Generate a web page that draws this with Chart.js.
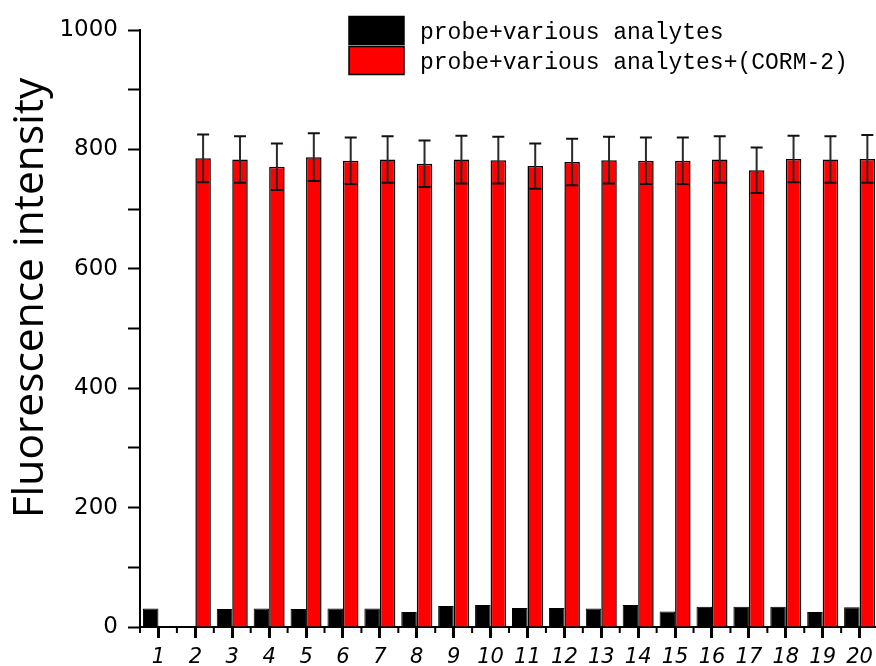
<!DOCTYPE html>
<html>
<head>
<meta charset="utf-8">
<title>Fluorescence intensity</title>
<script src="https://cdn.jsdelivr.net/npm/chart.js@4/dist/chart.umd.min.js"></script>
<style>
  html, body { margin: 0; padding: 0; overflow: hidden; background: #ffffff; }
  canvas { display: block; }
</style>
</head>
<body>
<canvas id="chart" width="880" height="666"></canvas>
<script>
// Sample numbers along the x axis
const categories = ['1','2','3','4','5','6','7','8','9','10','11','12','13','14','15','16','17','18','19','20'];

// Probe with each analyte
const probeAnalytes = [31, 0, 30, 31, 30, 31, 31, 25, 35, 37, 32, 32, 31, 37, 26, 34, 34, 34, 25, 33];

// Probe with each analyte, then CORM-2 added
const probeAnalytesCorm = [0, 785, 783, 771, 787, 781, 783, 776, 783, 782, 772, 779, 782, 781, 781, 783, 765, 784, 783, 784];
const probeAnalytesCormErr = [0, 40, 39, 39, 40, 39, 39, 39, 40, 39, 38, 39, 39, 39, 39, 39, 38, 39, 39, 40];

const seriesLabels = ['probe+various analytes', 'probe+various analytes+(CORM-2)'];
const seriesColors = ['#000000', '#ff0000'];

const yAxisTitle = 'Fluorescence intensity';
const yMax = 1000;
const yLabelStep = 200;
const yTickStep = 100;

// Symmetric error bars with caps on the CORM-2 series
const errorBarPlugin = {
  id: 'errorBars',
  afterDatasetsDraw(chart) {
    const meta = chart.getDatasetMeta(1);
    const ys = chart.scales.y;
    const ctx = chart.ctx;
    ctx.save();
    meta.data.forEach((bar, i) => {
      const v = probeAnalytesCorm[i];
      const e = probeAnalytesCormErr[i];
      if (!e) return;
      const x = bar.x;
      const yTop = ys.getPixelForValue(v + e);
      const yBot = ys.getPixelForValue(v - e);
      ctx.strokeStyle = '#2a2a2a';
      ctx.lineWidth = 2;
      ctx.beginPath();
      ctx.moveTo(x, yTop);
      ctx.lineTo(x, yBot);
      ctx.stroke();
      ctx.strokeStyle = '#111111';
      ctx.beginPath();
      ctx.moveTo(x - 6, yTop);
      ctx.lineTo(x + 6, yTop);
      ctx.moveTo(x - 6, yBot);
      ctx.lineTo(x + 6, yBot);
      ctx.stroke();
    });
    ctx.restore();
  }
};

// Short ticks on the category boundaries of the x axis
const minorTickPlugin = {
  id: 'minorTicks',
  afterDraw(chart) {
    const xs = chart.scales.x;
    const ctx = chart.ctx;
    const n = categories.length;
    const step = (xs.right - xs.left) / n;
    ctx.save();
    ctx.strokeStyle = '#000';
    ctx.lineWidth = 2;
    ctx.beginPath();
    for (let i = 0; i <= n; i++) {
      const x = xs.left + i * step;
      ctx.moveTo(x, xs.top);
      ctx.lineTo(x, xs.top + 6);
    }
    ctx.stroke();
    ctx.restore();
  }
};

// Vertical axis title
const yTitlePlugin = {
  id: 'yTitle',
  afterDraw(chart) {
    const ctx = chart.ctx;
    ctx.save();
    ctx.translate(31, 298);
    ctx.rotate(-Math.PI / 2);
    ctx.font = '42.5px "Open Sans"';
    ctx.fillStyle = '#000';
    ctx.textAlign = 'center';
    ctx.textBaseline = 'middle';
    ctx.fillText(yAxisTitle, 0, 0);
    ctx.restore();
  }
};

// Two-row legend in the upper right
const legendPlugin = {
  id: 'stackedLegend',
  afterDraw(chart) {
    const ctx = chart.ctx;
    ctx.save();
    chart.data.datasets.forEach((ds, i) => {
      const top = 16.5 + i * 30;
      ctx.fillStyle = ds.backgroundColor;
      ctx.fillRect(349, top, 55, 28);
      ctx.strokeStyle = '#000';
      ctx.lineWidth = 1.5;
      ctx.strokeRect(349, top, 55, 28);
      ctx.fillStyle = '#000';
      ctx.font = '23px "Liberation Mono"';
      ctx.textAlign = 'left';
      ctx.textBaseline = 'alphabetic';
      ctx.fillText(ds.label, 420, top + 22);
    });
    ctx.restore();
  }
};

new Chart(document.getElementById('chart'), {
  type: 'bar',
  data: {
    labels: categories,
    datasets: [
      {
        label: seriesLabels[0],
        data: probeAnalytes,
        backgroundColor: seriesColors[0],
        borderColor: '#000',
        borderWidth: 1,
        borderSkipped: 'bottom'
      },
      {
        label: seriesLabels[1],
        data: probeAnalytesCorm,
        backgroundColor: seriesColors[1],
        borderColor: '#000',
        borderWidth: 1.5,
        borderSkipped: 'bottom'
      }
    ]
  },
  options: {
    responsive: false,
    animation: false,
    devicePixelRatio: 1,
    layout: { padding: { left: 0, right: 1.5, top: 30, bottom: 0 } },
    datasets: { bar: { categoryPercentage: 0.84, barPercentage: 1 } },
    plugins: {
      legend: { display: false },
      tooltip: { enabled: false },
      title: { display: false }
    },
    scales: {
      x: {
        offset: true,
        grid: {
          offset: false,
          drawOnChartArea: false,
          drawTicks: true,
          tickLength: 11,
          tickWidth: 3,
          tickColor: '#000'
        },
        border: { display: true, color: '#000', width: 2 },
        ticks: {
          color: '#000',
          font: { family: '"DejaVu Sans"', size: 21, style: 'italic' },
          padding: 7,
          maxRotation: 0,
          autoSkip: false
        },
        afterFit(scale) { scale.height = 39; }
      },
      y: {
        min: 0,
        max: yMax,
        grid: {
          drawOnChartArea: false,
          drawTicks: true,
          tickLength: 12,
          tickWidth: 2,
          tickColor: '#000'
        },
        border: { display: true, color: '#000', width: 2 },
        ticks: {
          stepSize: yTickStep,
          color: '#000',
          font: { family: '"DejaVu Sans"', size: 23 },
          padding: 10,
          callback: (v) => (v % yLabelStep === 0 ? String(v) : '')
        },
        afterFit(scale) { scale.width = 140; }
      }
    }
  },
  plugins: [errorBarPlugin, minorTickPlugin, yTitlePlugin, legendPlugin]
});
</script>
</body>
</html>
